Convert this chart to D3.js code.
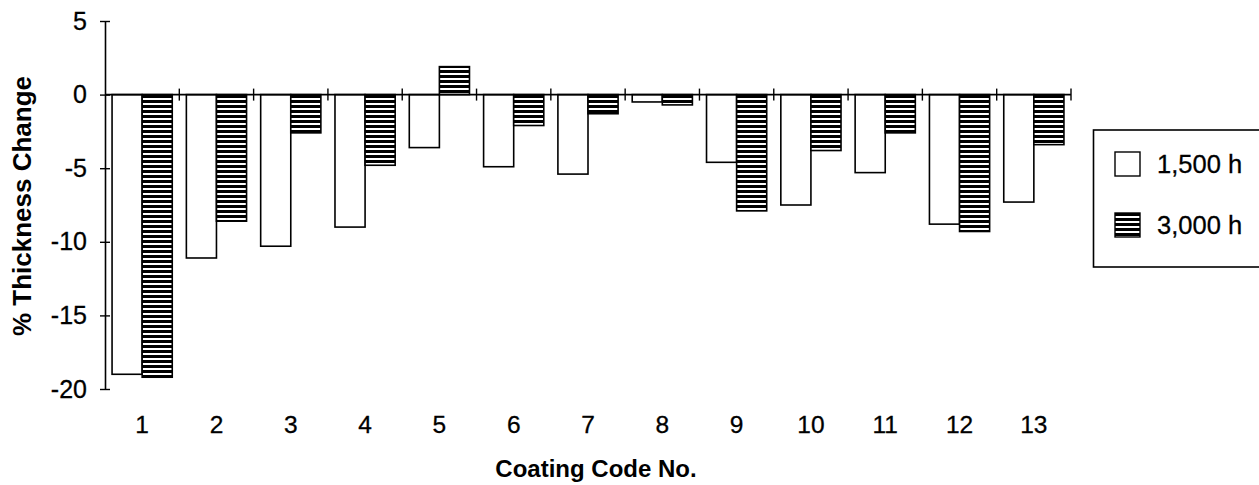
<!DOCTYPE html>
<html>
<head>
<meta charset="utf-8">
<script src="https://cdn.jsdelivr.net/npm/d3@7"></script>
<style>
  html, body { margin: 0; padding: 0; background: #fff; }
  svg { display: block; font-family: "Liberation Sans", Arial, Helvetica, sans-serif; }
</style>
</head>
<body>
<svg id="chart" width="1259" height="485"></svg>
<script>
// Coating codes along the x axis
const categories = ["1","2","3","4","5","6","7","8","9","10","11","12","13"];
// % thickness change after each exposure time
const after1500h = [-19.0, -11.1, -10.3, -9.0, -3.6, -4.9, -5.4, -0.5, -4.6, -7.5, -5.3, -8.8, -7.3];
const after3000h = [-19.2, -8.6, -2.6, -4.8, 1.9, -2.1, -1.3, -0.7, -7.9, -3.8, -2.6, -9.3, -3.4];
const seriesNames = ["1,500 h", "3,000 h"];
const yTicks = [5, 0, -5, -10, -15, -20];

const svg = d3.select("#chart");

// striped fill for the 3,000 h series
const defs = svg.append("defs");
const pat = defs.append("pattern")
  .attr("id", "stripes")
  .attr("patternUnits", "userSpaceOnUse")
  .attr("width", 8).attr("height", 5);
pat.append("rect").attr("width", 8).attr("height", 5).attr("fill", "#fff");
pat.append("rect").attr("width", 8).attr("height", 3).attr("fill", "#000");

const x = d3.scaleBand()
  .domain(categories)
  .range([105, 1071])
  .paddingInner(0.19)
  .paddingOuter(0.095);

const x1 = d3.scaleBand()
  .domain(seriesNames)
  .range([0, x.bandwidth()]);

const y = d3.scaleLinear()
  .domain([-20, 5])
  .range([389, 21]);

const fills = { "1,500 h": "#fff", "3,000 h": "url(#stripes)" };

const rows = categories.map((c, i) => ({
  cat: c,
  vals: [
    { s: seriesNames[0], v: after1500h[i] },
    { s: seriesNames[1], v: after3000h[i] }
  ]
}));

// bars
const groups = svg.append("g").selectAll("g")
  .data(rows).join("g")
  .attr("transform", d => `translate(${x(d.cat)},0)`);

groups.selectAll("rect")
  .data(d => d.vals).join("rect")
  .attr("x", d => x1(d.s))
  .attr("width", x1.bandwidth())
  .attr("y", d => y(Math.max(0, d.v)))
  .attr("height", d => Math.abs(y(d.v) - y(0)))
  .attr("fill", d => fills[d.s])
  .attr("stroke", "#000")
  .attr("stroke-width", 1.6);

// y axis with ticks crossing the line
const yAxis = svg.append("g")
  .attr("transform", "translate(105,0)")
  .call(d3.axisLeft(y).tickValues(yTicks).tickSize(5).tickSizeOuter(0).tickPadding(13)
    .tickFormat(d3.format("d")));
yAxis.select(".domain").attr("stroke", "#000").attr("stroke-width", 1.6);
yAxis.selectAll(".tick line").attr("x1", 5).attr("stroke-width", 1.4);
yAxis.selectAll(".tick text")
  .attr("font-size", 25).attr("fill", "#000")
  .attr("stroke", "#000").attr("stroke-width", 0.3)
  .text(d => d < 0 ? "-" + Math.abs(d) : d);

// zero line with category boundary ticks
const zeroAxis = svg.append("g")
  .attr("transform", `translate(0,${y(0)})`);
zeroAxis.append("line")
  .attr("x1", x.range()[0]).attr("x2", x.range()[1])
  .attr("stroke", "#000").attr("stroke-width", 1.6);
zeroAxis.selectAll("line.b")
  .data(categories).join("line")
  .attr("class", "b")
  .attr("x1", d => x(d) - x.step() * x.paddingOuter() + x.step())
  .attr("x2", d => x(d) - x.step() * x.paddingOuter() + x.step())
  .attr("y1", -6).attr("y2", 6)
  .attr("stroke", "#000").attr("stroke-width", 1.4);

// category labels
const xAxis = svg.append("g")
  .attr("transform", "translate(0,415.5)")
  .call(d3.axisBottom(x).tickSize(0).tickPadding(0));
xAxis.select(".domain").remove();
xAxis.selectAll(".tick text")
  .attr("font-size", 24.5).attr("fill", "#000")
  .attr("stroke", "#000").attr("stroke-width", 0.3);

// axis titles
svg.append("text")
  .attr("x", 596).attr("y", 477)
  .attr("text-anchor", "middle")
  .attr("font-size", 24).attr("font-weight", "bold")
  .text("Coating Code No.");

svg.append("text")
  .attr("transform", "translate(31,206) rotate(-90)")
  .attr("text-anchor", "middle")
  .attr("font-size", 26).attr("font-weight", "bold")
  .text("% Thickness Change");

// legend
const lg = svg.append("g");
lg.append("rect")
  .attr("x", 1093.5).attr("y", 130).attr("width", 200).attr("height", 137)
  .attr("fill", "#fff").attr("stroke", "#000").attr("stroke-width", 1.6);
const items = lg.selectAll("g.item")
  .data(seriesNames).join("g")
  .attr("class", "item")
  .attr("transform", (d, i) => `translate(1115,${152 + i * 61})`);
items.append("rect")
  .attr("width", 25).attr("height", 24)
  .attr("fill", d => fills[d])
  .attr("stroke", "#000").attr("stroke-width", 1.4);
items.append("text")
  .attr("x", 42).attr("y", 21)
  .attr("font-size", 25.5).attr("fill", "#000")
  .attr("stroke", "#000").attr("stroke-width", 0.3)
  .text(d => d);
</script>
</body>
</html>
